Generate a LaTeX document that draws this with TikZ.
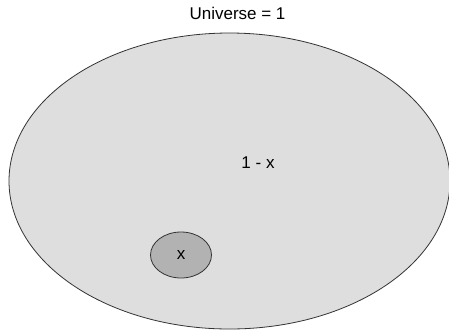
\documentclass[tikz,border=0pt]{standalone}
\usepackage{fontspec}
\setmainfont{Liberation Sans}
\usetikzlibrary{shapes,positioning}

\begin{document}
\begin{tikzpicture}[
    x=1pt, y=-1pt,
    % Sets
    universe/.style={ellipse, draw=black!80, line width=0.8pt, fill=black!13, minimum width=441pt, minimum height=296pt, inner sep=0pt},
    subset/.style={ellipse, draw=black!80, line width=0.8pt, fill=black!30, minimum width=61pt, minimum height=46pt, inner sep=0pt},
    % Labels
    setlabel/.style={font=\fontsize{17}{20}\selectfont, inner sep=0pt}
]
\useasboundingbox (0,0) rectangle (449,330);

% Sets
\node[universe] (univ) at (229.5,181) {};
\node[subset, setlabel] (xset) at (181,255) {x};

% Labels
\node[setlabel] (univtitle) at (237.5,13) {Universe = 1};
\node[setlabel] (rest) at (258,163) {1 - x};

\end{tikzpicture}
\end{document}
